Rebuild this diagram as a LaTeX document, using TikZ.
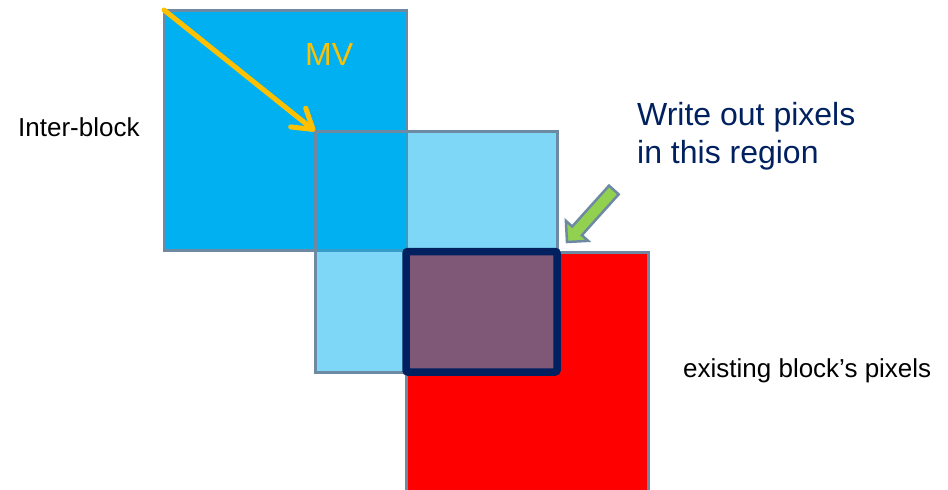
\documentclass[tikz,border=0pt]{standalone}
\usepackage{fontspec}
\setmainfont{Liberation Sans}
\usetikzlibrary{arrows.meta}
\definecolor{blkblue}{HTML}{00B0F0}
\definecolor{blkedge}{HTML}{6E8AA3}
\definecolor{mvgold}{HTML}{FFC000}
\definecolor{regnavy}{HTML}{002060}
\definecolor{leaf}{HTML}{92D050}

\begin{document}
\begin{tikzpicture}[x=1pt,y=1pt,
    blk/.style={draw=blkedge,line width=3pt,inner sep=0,outer sep=0,anchor=north west},
    lbl/.style={inner sep=0,anchor=base west,font=\fontsize{26}{31}\selectfont},
    big/.style={lbl,font=\fontsize{32}{38}\selectfont}]
    \useasboundingbox (0,0) rectangle (948,-490);

    \node[blk,fill=blkblue,minimum width=242,minimum height=240] (intblk) at (164,-10) {};
    \node[blk,fill=red,minimum width=242,minimum height=250] (oldblk) at (406,-252) {};
    \node[blk,fill=blkblue,fill opacity=0.5,minimum width=242,minimum height=241] (mvblk) at (315,-131) {};
    \node[blk,draw=regnavy,line width=7.5pt,rounded corners=2pt,minimum width=151,minimum height=120.5] (outreg) at (406,-251.5) {};

    \draw[mvgold,line width=5pt,line cap=round,-{Straight Barb[round,length=19pt,width=24pt]}] (intblk.north west) -- (mvblk.north west);

    % block arrow, tip at the corner of the region
    \begin{scope}[shift={(567,-242)},rotate=228]
        \draw[draw=blkedge,line width=2.5pt,fill=leaf,line join=miter]
            (0,0) -- (-15,15) -- (-15,6.5) -- (-70,6.5) -- (-70,-6.5) -- (-15,-6.5) -- (-15,-15) -- cycle;
    \end{scope}

    \node[lbl] (txtinter) at (18,-136) {Inter-block};
    \node[big,text=mvgold] (txtmv) at (305,-65) {MV};
    \node[big,text=regnavy] (txtwrite) at (637,-125) {Write out pixels};
    \node[big,text=regnavy] (txtregion) at (637,-163) {in this region};
    \node[lbl] (txtexist) at (683,-377) {existing block’s pixels};
\end{tikzpicture}
\end{document}
